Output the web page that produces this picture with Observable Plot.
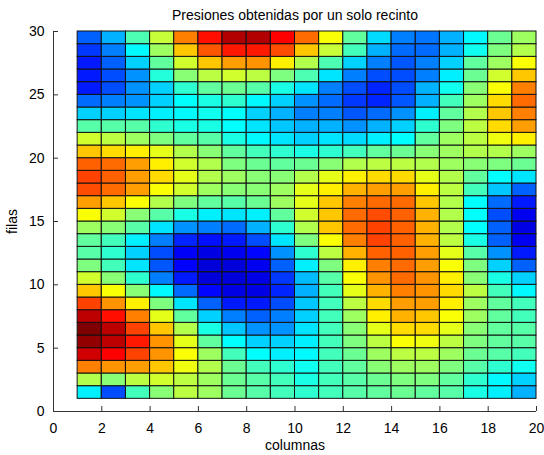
<!DOCTYPE html>
<html>
<head>
<meta charset="utf-8">
<script src="https://cdn.jsdelivr.net/npm/d3@7"></script>
<script src="https://cdn.jsdelivr.net/npm/@observablehq/plot@0.6"></script>
<style>
  html, body { margin: 0; padding: 0; background: white; }
</style>
</head>
<body>
<div id="chart"></div>
<script>
const titulo = "Presiones obtenidas por un solo recinto";
const etiquetaX = "columnas";
const etiquetaY = "filas";
const ticksX = [0, 2, 4, 6, 8, 10, 12, 14, 16, 18, 20];
const ticksY = [0, 5, 10, 15, 20, 25, 30];
const columnas = [1,2,3,4,5,6,7,8,9,10,11,12,13,14,15,16,17,18,19];
const filas = [1,2,3,4,5,6,7,8,9,10,11,12,13,14,15,16,17,18,19,20,21,22,23,24,25,26,27,28,29];
// presiones[k] = fila k+1, columnas 1..19 (valor normalizado 0..1)
const presiones = [
  [0.36,0.20,0.44,0.51,0.56,0.53,0.48,0.46,0.44,0.42,0.44,0.46,0.47,0.48,0.47,0.46,0.40,0.36,0.30],
  [0.55,0.51,0.56,0.58,0.56,0.53,0.48,0.46,0.44,0.40,0.44,0.46,0.48,0.50,0.50,0.47,0.42,0.37,0.33],
  [0.75,0.73,0.72,0.68,0.61,0.55,0.48,0.44,0.42,0.39,0.44,0.47,0.51,0.53,0.53,0.50,0.46,0.42,0.39],
  [0.92,0.875,0.81,0.73,0.62,0.53,0.44,0.375,0.36,0.37,0.44,0.48,0.53,0.56,0.56,0.53,0.48,0.46,0.44],
  [0.98,0.94,0.85,0.73,0.60,0.47,0.375,0.33,0.33,0.36,0.44,0.50,0.56,0.62,0.61,0.56,0.50,0.47,0.46],
  [1.00,0.94,0.81,0.68,0.55,0.40,0.32,0.27,0.27,0.35,0.44,0.51,0.60,0.66,0.66,0.60,0.51,0.47,0.46],
  [0.94,0.86,0.75,0.60,0.47,0.33,0.25,0.22,0.25,0.33,0.44,0.53,0.64,0.70,0.68,0.62,0.53,0.47,0.44],
  [0.81,0.73,0.64,0.50,0.35,0.22,0.15,0.15,0.20,0.32,0.44,0.56,0.66,0.72,0.72,0.64,0.53,0.47,0.44],
  [0.68,0.62,0.51,0.37,0.23,0.13,0.10,0.10,0.16,0.30,0.44,0.60,0.70,0.75,0.73,0.66,0.56,0.44,0.37],
  [0.58,0.51,0.42,0.25,0.15,0.09,0.09,0.10,0.18,0.31,0.46,0.62,0.73,0.77,0.73,0.64,0.51,0.40,0.33],
  [0.50,0.44,0.35,0.21,0.125,0.09,0.09,0.11,0.22,0.36,0.50,0.64,0.75,0.77,0.72,0.62,0.50,0.33,0.22],
  [0.46,0.42,0.33,0.20,0.12,0.10,0.11,0.13,0.27,0.42,0.56,0.70,0.78,0.78,0.72,0.60,0.46,0.27,0.15],
  [0.47,0.44,0.36,0.25,0.16,0.14,0.15,0.20,0.35,0.50,0.62,0.75,0.81,0.78,0.70,0.56,0.40,0.22,0.11],
  [0.53,0.51,0.46,0.35,0.27,0.25,0.23,0.30,0.42,0.55,0.68,0.77,0.81,0.78,0.70,0.55,0.375,0.22,0.10],
  [0.62,0.58,0.51,0.46,0.40,0.36,0.35,0.36,0.47,0.58,0.68,0.77,0.80,0.78,0.70,0.55,0.375,0.20,0.11],
  [0.72,0.68,0.62,0.55,0.50,0.47,0.46,0.48,0.53,0.60,0.68,0.75,0.77,0.77,0.68,0.55,0.375,0.23,0.15],
  [0.80,0.77,0.72,0.62,0.58,0.53,0.51,0.51,0.53,0.60,0.64,0.70,0.72,0.72,0.64,0.56,0.44,0.32,0.22],
  [0.81,0.78,0.72,0.66,0.60,0.55,0.53,0.51,0.51,0.55,0.60,0.64,0.66,0.66,0.60,0.55,0.47,0.375,0.35],
  [0.78,0.77,0.72,0.64,0.58,0.55,0.50,0.48,0.47,0.48,0.51,0.55,0.56,0.56,0.55,0.53,0.51,0.50,0.48],
  [0.68,0.66,0.64,0.60,0.55,0.51,0.47,0.44,0.42,0.40,0.42,0.44,0.47,0.48,0.51,0.53,0.55,0.55,0.53],
  [0.58,0.56,0.53,0.50,0.47,0.46,0.40,0.37,0.35,0.33,0.35,0.34,0.36,0.375,0.47,0.53,0.56,0.61,0.64],
  [0.46,0.46,0.46,0.42,0.40,0.40,0.375,0.35,0.32,0.30,0.30,0.27,0.30,0.33,0.42,0.50,0.56,0.66,0.72],
  [0.33,0.33,0.35,0.36,0.37,0.39,0.375,0.33,0.30,0.25,0.25,0.21,0.23,0.27,0.36,0.47,0.55,0.68,0.75],
  [0.23,0.25,0.27,0.33,0.375,0.40,0.42,0.37,0.33,0.27,0.23,0.18,0.16,0.21,0.30,0.44,0.53,0.66,0.77],
  [0.15,0.20,0.27,0.33,0.42,0.47,0.48,0.46,0.40,0.35,0.25,0.20,0.16,0.20,0.30,0.39,0.51,0.62,0.75],
  [0.15,0.20,0.27,0.41,0.51,0.56,0.58,0.56,0.50,0.45,0.35,0.25,0.20,0.20,0.25,0.36,0.48,0.58,0.68],
  [0.15,0.22,0.33,0.47,0.58,0.68,0.72,0.73,0.64,0.55,0.45,0.33,0.25,0.21,0.25,0.33,0.47,0.53,0.62],
  [0.18,0.25,0.37,0.53,0.68,0.79,0.85,0.85,0.80,0.68,0.57,0.44,0.30,0.23,0.23,0.30,0.39,0.50,0.55],
  [0.22,0.30,0.45,0.57,0.75,0.86,0.95,0.95,0.875,0.77,0.62,0.47,0.34,0.25,0.24,0.30,0.37,0.48,0.53]
];
const jetColores = ["#00007f","#0000ff","#007fff","#00ffff","#7fff7f","#ffff00","#ff7f00","#ff0000","#7f0000"];

const jet = d3.piecewise(d3.interpolateRgb, jetColores);

const celdas = [];
filas.forEach((f, i) => {
  columnas.forEach((c, j) => {
    celdas.push({c, f, v: presiones[i][j]});
  });
});

const font = "'Liberation Sans', Arial, Helvetica, sans-serif";

const chart = Plot.plot({
  width: 544,
  height: 455,
  marginTop: 31,
  marginBottom: 44,
  marginLeft: 53,
  marginRight: 8,
  style: {fontFamily: font, fontSize: "14px", background: "white", color: "black", overflow: "visible"},
  x: {domain: [0, 20], label: null},
  y: {domain: [0, 30], label: null},
  color: {type: "linear", domain: [0, 1], interpolate: jet},
  marks: [
    Plot.rect(celdas, {
      x1: "c", x2: d => d.c + 1, y1: "f", y2: d => d.f + 1,
      fill: "v", stroke: "#111", strokeWidth: 1, inset: 0
    }),
    Plot.axisX(ticksX, {anchor: "bottom", tickSize: -5, tickPadding: 17, label: null, stroke: "#333", fontSize: 14}),
    Plot.axisY(ticksY, {anchor: "left", tickSize: -5, tickPadding: 14, label: null, stroke: "#333", fontSize: 14}),
    Plot.ruleY([0], {stroke: "#333"}),
    Plot.ruleX([0], {stroke: "#333"}),
    Plot.text([titulo], {frameAnchor: "top", lineAnchor: "middle", textAnchor: "middle", dy: -16, fontSize: 14}),
    Plot.text([etiquetaX], {frameAnchor: "bottom", lineAnchor: "middle", textAnchor: "middle", dy: 34, fontSize: 14}),
    Plot.text([etiquetaY], {frameAnchor: "left", lineAnchor: "middle", textAnchor: "middle", dx: -41, rotate: -90, fontSize: 14})
  ]
});
document.getElementById("chart").appendChild(chart);
</script>
</body>
</html>
